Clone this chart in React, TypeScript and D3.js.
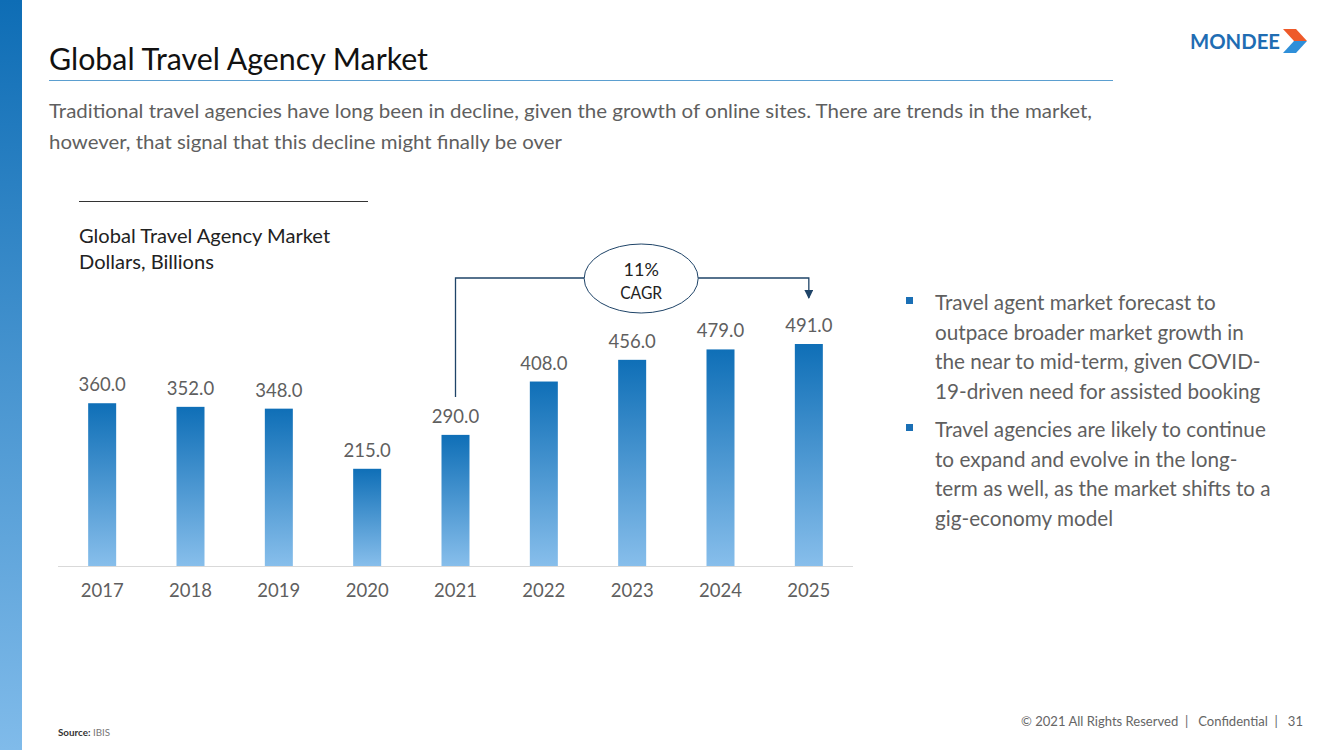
import React from "react";
import * as d3 from "d3";

const years = ["2017", "2018", "2019", "2020", "2021", "2022", "2023", "2024", "2025"];
const values = [360, 352, 348, 215, 290, 408, 456, 479, 491];
const cagrLabel = ["11%", "CAGR"];
const cagrFrom = "2021";
const cagrTo = "2025";
const subtitleLines = [
  "Traditional travel agencies have long been in decline, given the growth of online sites.  There are trends in the market,",
  "however, that signal that this decline might finally be over",
];
const chartTitle = ["Global Travel Agency Market", "Dollars, Billions"];
const bullets = [
  ["Travel agent market forecast to", "outpace broader market growth in", "the near to mid-term, given COVID-", "19-driven need for assisted booking"],
  ["Travel agencies are likely to continue", "to expand and evolve in the long-", "term as well, as the market shifts to a", "gig-economy model"],
];

const FONT = "Lato, 'Open Sans', sans-serif";

export default function App() {
  const W = 1333, H = 750;
  const x = d3.scaleBand<string>().domain(years).range([58, 853]).padding(0);
  const y = d3.scaleLinear().domain([0, 491]).range([566, 344]);
  const barW = 28;
  const fmt = d3.format(".1f");
  const cx = (yr: string) => (x(yr) as number) + x.bandwidth() / 2;

  const iFrom = years.indexOf(cagrFrom);
  const x1 = cx(cagrFrom);
  const x2 = cx(cagrTo);
  const yLine = 278;
  const yStart = y(values[iFrom]) - 38;
  const ex = (x1 + x2) / 2 + 9;

  return (
    <svg width={W} height={H} style={{ position: "absolute", left: 0, top: 0, background: "#fff" }} fontFamily={FONT}>
      <defs>
        <linearGradient id="side" x1="0" y1="0" x2="0" y2="1">
          <stop offset="0" stopColor="#0e6db5" />
          <stop offset="1" stopColor="#80bbea" />
        </linearGradient>
        <linearGradient id="bar" x1="0" y1="0" x2="0" y2="1">
          <stop offset="0" stopColor="#0f6fb7" />
          <stop offset="1" stopColor="#87beeb" />
        </linearGradient>
        <marker id="arr" viewBox="0 0 10 10" refX="9" refY="5" markerWidth="7" markerHeight="7" orient="auto">
          <path d="M0,0 L10,5 L0,10 z" fill="#1f4468" />
        </marker>
      </defs>
      <rect x={0} y={0} width={W} height={H} fill="#fff" />
      <rect x={0} y={0} width={22} height={H} fill="url(#side)" />

      {/* Title */}
      <text x={49} y={70} fontSize={30} fill="#111" textLength={379} lengthAdjust="spacingAndGlyphs">Global Travel Agency Market</text>
      <line x1={49} x2={1113} y1={80.5} y2={80.5} stroke="#5b9fd0" strokeWidth={1.2} />
      {subtitleLines.map((t, i) => (
        <text key={i} x={49} y={118 + i * 31} fontSize={19} fill="#5f5f5f"
          textLength={i === 0 ? 1043 : 513} lengthAdjust="spacingAndGlyphs">{t}</text>
      ))}

      {/* Logo */}
      <text x={1190} y={49} fontSize={20} fontWeight={700} fill="#1f6db3" textLength={90} lengthAdjust="spacingAndGlyphs">MONDEE</text>
      <polygon points="1283,29 1296,29 1307,41 1294,41" fill="#ee5a2a" />
      <polygon points="1294,41 1307,41 1296,53 1283,53" fill="#2f8fd9" />

      {/* chart header */}
      <line x1={79} x2={368} y1={201.5} y2={201.5} stroke="#333" strokeWidth={1} />
      {chartTitle.map((t, i) => (
        <text key={i} x={79} y={243 + i * 26} fontSize={20.1} fill="#222">{t}</text>
      ))}

      {/* bars */}
      {years.map((yr, i) => (
        <g key={yr}>
          <rect x={cx(yr) - barW / 2} y={y(values[i])} width={barW} height={y(0) - y(values[i])} fill="url(#bar)" />
          <text x={cx(yr)} y={y(values[i]) - 12} fontSize={18.5} fill="#5f5f5f" textAnchor="middle">{fmt(values[i])}</text>
          <text x={cx(yr)} y={597} fontSize={18.5} fill="#5f5f5f" textAnchor="middle">{yr}</text>
        </g>
      ))}
      <line x1={58} x2={853} y1={y(0) + 0.5} y2={y(0) + 0.5} stroke="#d9d9d9" strokeWidth={1} />

      {/* CAGR */}
      <path d={`M${x1},${yStart} V${yLine} H${x2} V${yLine + 20}`} fill="none" stroke="#1f4468" strokeWidth={1.3} markerEnd="url(#arr)" />
      <ellipse cx={ex} cy={yLine + 0.5} rx={57} ry={34.5} fill="#fff" stroke="#1f4468" strokeWidth={1} />
      <text x={ex} y={276} fontSize={18} fill="#222" textAnchor="middle">{cagrLabel[0]}</text>
      <text x={ex} y={299} fontSize={18} fill="#222" textAnchor="middle" textLength={42} lengthAdjust="spacingAndGlyphs">{cagrLabel[1]}</text>

      {/* bullets */}
      {bullets.map((lines, bi) => (
        <g key={bi}>
          <rect x={906} y={297 + bi * 127} width={7} height={7} fill="#1a6fb5" />
          {lines.map((t, li) => (
            <text key={li} x={935} y={310 + bi * 127 + li * 29.5} fontSize={20.7} fill="#5f5f5f">{t}</text>
          ))}
        </g>
      ))}

      {/* footer */}
      <text x={58} y={736} fontSize={9.8} fill="#333">
        <tspan fontWeight={700}>Source:</tspan>
        <tspan fill="#777"> IBIS</tspan>
      </text>
      <text x={1303} y={726} fontSize={12.5} fill="#666" textAnchor="end" xmlSpace="preserve" textLength={282} lengthAdjust="spacingAndGlyphs">© 2021 All Rights Reserved  |   Confidential  |   31</text>
    </svg>
  );
}
